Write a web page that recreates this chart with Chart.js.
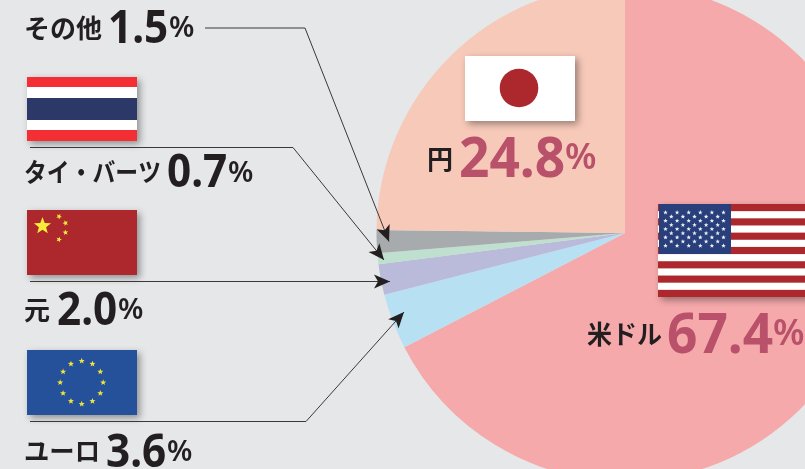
<!DOCTYPE html>
<html lang="ja"><head><meta charset="utf-8">
<style>
html,body{margin:0;padding:0;width:805px;height:469px;overflow:hidden;background:#E6E7E9}
#wrap{position:absolute;left:0;top:-16px;width:1250px;height:498px}
</style>
<script src="https://cdn.jsdelivr.net/npm/chart.js@4"></script>
</head><body>
<div id="wrap"><canvas id="c" width="1250" height="498"></canvas></div>
<script>
const categories = ['米ドル','ユーロ','元','タイ・バーツ','その他','円'];
const shares = [67.4,3.6,2.0,0.7,1.5,24.8];
const sliceColors = ['#F5A9AB','#B7E1F3','#BABBDB','#BFDFCF','#A7ABAD','#F7C9B9'];

const INK='#231F20', ROSE='#B9516A', DY=16;
const JP='"Noto Sans CJK JP"', NUM='"Noto Sans"';
// text placement, in page pixels: label x/baseline/width, number x/baseline/size, percent x/baseline/size
const big={n:56,p:36,f:.95}, small={n:47,p:29,f:.9};
const placement={
 '米ドル':{lx:587,ly:344,lw:75,nx:667,ny:353,px:773,py:345,s:big,c:ROSE},
 'ユーロ':{lx:24,ly:461,lw:76,nx:106,ny:467,px:167,py:461,s:small,c:INK},
 '元':{lx:24,ly:320,lw:26,nx:57,ny:325,px:118,py:319,s:small,c:INK},
 'タイ・バーツ':{lx:24,ly:182,lw:137,nx:167,ny:187,px:228,py:182,s:small,c:INK},
 'その他':{lx:24,ly:38,lw:78,nx:108,ny:43,px:169,py:37,s:small,c:INK},
 '円':{lx:427,ly:169,lw:26,nx:459,ny:177,px:565,py:169,s:big,c:ROSE}
};
const leaders=[
 [[205,28],[305,28],[389,241.5]],
 [[30,147.5],[293,147.5],[384,260]],
 [[30,281.5],[390,281.5]],
 [[30,421.5],[306,421.5],[404,312]]
];

function shadow(ctx,on){ctx.shadowColor=on?'rgba(0,0,0,.38)':'transparent';ctx.shadowBlur=on?7:0;ctx.shadowOffsetX=on?3:0;ctx.shadowOffsetY=on?3:0;}
function star(ctx,x,y,r,rot,col){
  ctx.fillStyle=col;ctx.beginPath();
  for(let i=0;i<10;i++){const a=rot-Math.PI/2+i*Math.PI/5,q=i%2?r*.42:r;
    ctx[i?'lineTo':'moveTo'](x+q*Math.cos(a),y+q*Math.sin(a));}
  ctx.closePath();ctx.fill();
}
function base(ctx,x,y,w,h,col){shadow(ctx,true);ctx.fillStyle=col;ctx.fillRect(x,y,w,h);shadow(ctx,false);}
function flags(ctx){
  // Japan
  base(ctx,465,56,110,65,'#fff');
  ctx.fillStyle='#AC282D';ctx.beginPath();ctx.arc(519,88,19.3,0,7);ctx.fill();
  // Thailand
  base(ctx,27,77,110,64,'#fff');
  ctx.fillStyle='#F32E34';ctx.fillRect(27,77,110,10);ctx.fillRect(27,130,110,11);
  ctx.fillStyle='#2C3868';ctx.fillRect(27,98,110,22);
  // China
  base(ctx,27,210,110,65,'#AC282D');
  star(ctx,42.5,226,9,0,'#F8EC3A');
  [[59,216.5,.5],[65.5,223,.9],[65.5,232.5,-.1],[59,239.5,.3]].forEach(s=>star(ctx,s[0],s[1],3,s[2],'#F8EC3A'));
  // EU
  base(ctx,27,350,110,65,'#25519B');
  for(let i=0;i<12;i++){const a=i*Math.PI/6;star(ctx,81.7+21.5*Math.sin(a),382.5-21.5*Math.cos(a),3.2,0,'#F3E33A');}
  // USA
  const ux=658,uy=204,uw=160,uh=93,st=uh/13;
  base(ctx,ux,uy,uw,uh,'#fff');
  ctx.fillStyle='#AC282D';
  for(let i=0;i<13;i+=2)ctx.fillRect(ux,uy+i*st,uw,st);
  ctx.fillStyle='#283F7C';ctx.fillRect(ux+1,uy,72,50);
  for(let r=0;r<9;r++){const odd=r%2,n=odd?5:6;
    for(let k=0;k<n;k++)star(ctx,ux+7.5+(odd?5.8:0)+k*11.6,uy+8.5+r*4.15,2.4,0,'#F1F1F5');}
}
function arrow(ctx,a,b){
  const t=Math.atan2(b[1]-a[1],b[0]-a[0]);
  ctx.save();ctx.translate(b[0],b[1]);ctx.rotate(t);ctx.fillStyle='#231F20';
  ctx.beginPath();ctx.moveTo(0,0);ctx.lineTo(-16,-7);ctx.lineTo(-12,0);ctx.lineTo(-16,7);ctx.closePath();ctx.fill();ctx.restore();
}
function lines(ctx){
  ctx.strokeStyle='#3A3839';ctx.lineWidth=1;
  leaders.forEach(p=>{
    ctx.beginPath();p.forEach((q,i)=>ctx[i?'lineTo':'moveTo'](q[0],q[1]));ctx.stroke();
    arrow(ctx,p[p.length-2],p[p.length-1]);
  });
}
function texts(ctx){
  ctx.textBaseline='alphabetic';ctx.textAlign='left';
  categories.forEach((name,i)=>{
    const p=placement[name];
    ctx.fillStyle=INK;ctx.font='bold 26px '+JP;ctx.fillText(name,p.lx,p.ly,p.lw);
    ctx.fillStyle=p.c;ctx.font='bold '+p.s.n+'px '+NUM;
    const num=shares[i].toFixed(1);
    ctx.fillText(num,p.nx,p.ny,ctx.measureText(num).width*p.s.f);
    ctx.font='600 '+p.s.p+'px '+NUM;ctx.fillText('%',p.px,p.py);
  });
}
const overlay={id:'overlay',afterDatasetsDraw(chart){
  const ctx=chart.ctx;ctx.save();ctx.translate(0,DY);
  flags(ctx);lines(ctx);texts(ctx);ctx.restore();
}};
new Chart(document.getElementById('c'),{
  type:'pie',
  data:{labels:categories,datasets:[{data:shares,backgroundColor:sliceColors,borderWidth:0}]},
  options:{responsive:false,animation:false,radius:248.5,rotation:0,
    layout:{padding:0},
    plugins:{legend:{display:false},tooltip:{enabled:false}}},
  plugins:[overlay]
});
</script>
</body></html>
